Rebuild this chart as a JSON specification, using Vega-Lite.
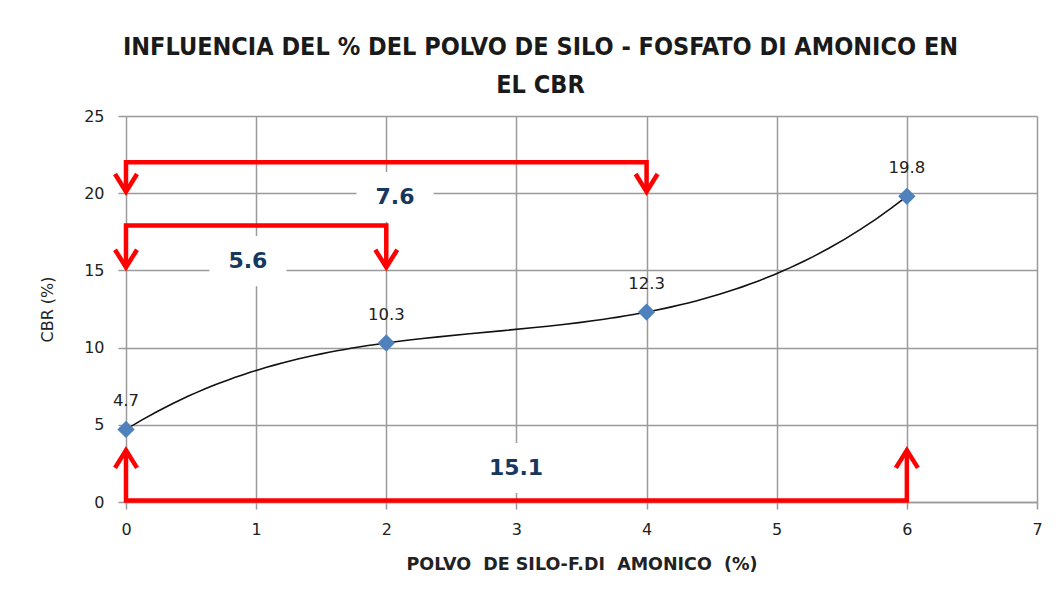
{
  "$schema": "https://vega.github.io/schema/vega-lite/v6.json",
  "width": 911,
  "height": 386,
  "autosize": {"type": "none"},
  "padding": {"left": 126, "top": 116, "right": 27, "bottom": 101},
  "background": "white",
  "config": {"view": {"stroke": null}},
  "title": {
    "text": ["INFLUENCIA DEL % DEL POLVO DE SILO - FOSFATO DI AMONICO EN", "EL CBR"],
    "font": "DejaVu Sans Condensed, Liberation Sans, sans-serif",
    "fontSize": 25,
    "fontWeight": "bold",
    "color": "#1a1a1a",
    "anchor": "middle",
    "frame": "group",
    "dx": -41,
    "offset": 10,
    "lineHeight": 38
  },
  "datasets": {
    "pts": [
      {"x": 0, "cbr": 4.7},
      {"x": 2, "cbr": 10.3},
      {"x": 4, "cbr": 12.3},
      {"x": 6, "cbr": 19.8}
    ],
    "brackets": [
      {"g": "a", "o": 1, "x": 0, "y": 20.3},
      {"g": "a", "o": 2, "x": 0, "y": 22},
      {"g": "a", "o": 3, "x": 4, "y": 22},
      {"g": "a", "o": 4, "x": 4, "y": 20.3},
      {"g": "b", "o": 1, "x": 0, "y": 15.4},
      {"g": "b", "o": 2, "x": 0, "y": 17.9},
      {"g": "b", "o": 3, "x": 2, "y": 17.9},
      {"g": "b", "o": 4, "x": 2, "y": 15.4},
      {"g": "c", "o": 1, "x": 0, "y": 3.2},
      {"g": "c", "o": 2, "x": 0, "y": 0.1},
      {"g": "c", "o": 3, "x": 6, "y": 0.1},
      {"g": "c", "o": 4, "x": 6, "y": 3.2}
    ],
    "tips": [
      {"x": 0, "y": 20.1, "dir": "down"},
      {"x": 4, "y": 20.1, "dir": "down"},
      {"x": 0, "y": 15.2, "dir": "down"},
      {"x": 2, "y": 15.2, "dir": "down"},
      {"x": 0, "y": 3.35, "dir": "up"},
      {"x": 6, "y": 3.35, "dir": "up"}
    ],
    "diffs": [
      {"x": 2.067, "y": 19.75, "label": "7.6"},
      {"x": 0.937, "y": 15.6, "label": "5.6"},
      {"x": 2.997, "y": 2.2, "label": "15.1"}
    ]
  },
  "layer": [
    {
      "data": {"name": "diffs"},
      "mark": {"type": "point", "shape": "M-1,-0.65H1V0.65H-1Z", "filled": true, "color": "white", "opacity": 1, "strokeWidth": 0, "size": 5929},
      "encoding": {
        "x": {
          "field": "x", "type": "quantitative",
          "scale": {"domain": [0, 7], "nice": false, "zero": false},
          "axis": {
            "values": [0, 1, 2, 3, 4, 5, 6, 7],
            "format": "d",
            "labelFlush": false,
            "grid": true, "gridColor": "#9a9a9a", "gridWidth": 1.5,
            "domainColor": "#9a9a9a", "domainWidth": 1.5,
            "tickColor": "#9a9a9a", "tickWidth": 1.5, "tickSize": 7,
            "labelFont": "DejaVu Sans", "labelFontSize": 16, "labelColor": "#222222", "labelPadding": 12,
            "title": "POLVO\u00a0\u00a0DE SILO-F.DI\u00a0\u00a0AMONICO\u00a0\u00a0(%)",
            "titleFont": "DejaVu Sans", "titleFontSize": 17.5, "titleFontWeight": "bold", "titleColor": "#222222", "titlePadding": 18
          }
        },
        "y": {
          "field": "y", "type": "quantitative",
          "scale": {"domain": [0, 25], "nice": false, "zero": false},
          "axis": {
            "values": [0, 5, 10, 15, 20, 25],
            "format": "d",
            "labelFlush": false,
            "grid": true, "gridColor": "#9a9a9a", "gridWidth": 1.5,
            "domain": false,
            "tickColor": "#9a9a9a", "tickWidth": 1.5, "tickSize": 8,
            "labelFont": "DejaVu Sans", "labelFontSize": 16, "labelColor": "#222222", "labelPadding": 14,
            "title": "CBR (%)",
            "titleFont": "DejaVu Sans", "titleFontSize": 16, "titleFontWeight": "normal", "titleColor": "#222222", "titlePadding": 28
          }
        }
      }
    },
    {
      "data": {"name": "brackets"},
      "mark": {"type": "line", "color": "#ff0000", "strokeWidth": 4.5, "strokeJoin": "miter", "strokeCap": "butt"},
      "encoding": {
        "x": {"field": "x", "type": "quantitative"},
        "y": {"field": "y", "type": "quantitative"},
        "detail": {"field": "g"},
        "order": {"field": "o"}
      }
    },
    {
      "data": {"name": "tips"},
      "mark": {"type": "point", "filled": false, "color": "#ff0000", "strokeWidth": 4.5, "strokeJoin": "miter", "opacity": 1, "size": 484},
      "encoding": {
        "x": {"field": "x", "type": "quantitative"},
        "y": {"field": "y", "type": "quantitative"},
        "shape": {
          "field": "dir", "type": "nominal",
          "scale": {"domain": ["down", "up"], "range": ["M-1,-1.6L0,0L1,-1.6", "M-1,1.6L0,0L1,1.6"]},
          "legend": null
        }
      }
    },
    {
      "data": {"name": "pts"},
      "transform": [{"regression": "cbr", "on": "x", "method": "poly", "order": 3, "extent": [0, 6]}],
      "mark": {"type": "line", "color": "#111111", "strokeWidth": 1.6},
      "encoding": {
        "x": {"field": "x", "type": "quantitative"},
        "y": {"field": "cbr", "type": "quantitative"}
      }
    },
    {
      "data": {"name": "pts"},
      "mark": {"type": "point", "shape": "diamond", "filled": true, "color": "#4f81bd", "opacity": 1, "size": 300},
      "encoding": {
        "x": {"field": "x", "type": "quantitative"},
        "y": {"field": "cbr", "type": "quantitative"}
      }
    },
    {
      "data": {"name": "pts"},
      "mark": {"type": "text", "font": "DejaVu Sans", "fontSize": 16.5, "color": "#222222", "dy": -28, "baseline": "middle"},
      "encoding": {
        "x": {"field": "x", "type": "quantitative"},
        "y": {"field": "cbr", "type": "quantitative"},
        "text": {"field": "cbr", "type": "quantitative", "format": ".1f"}
      }
    },
    {
      "data": {"name": "diffs"},
      "mark": {"type": "text", "font": "DejaVu Sans", "fontSize": 22, "fontWeight": "bold", "color": "#17375e", "baseline": "middle"},
      "encoding": {
        "x": {"field": "x", "type": "quantitative"},
        "y": {"field": "y", "type": "quantitative"},
        "text": {"field": "label"}
      }
    }
  ]
}
